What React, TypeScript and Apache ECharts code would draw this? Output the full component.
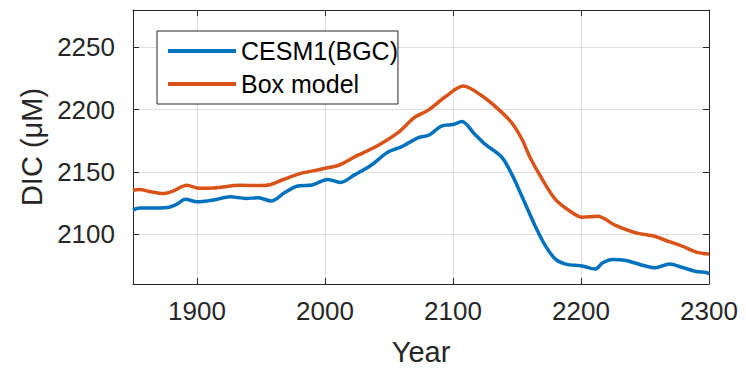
import React, { useEffect, useRef } from "react";
import * as echarts from "echarts";

const cesmYears = [1850, 1855, 1863, 1877, 1884, 1891, 1900, 1913, 1926, 1938, 1948, 1958, 1968, 1978, 1990, 2002, 2012, 2023, 2036, 2049, 2060, 2073, 2081, 2091, 2100, 2107, 2117, 2125, 2138, 2146, 2154, 2164, 2172, 2180, 2188, 2201, 2211, 2217, 2225, 2235, 2246, 2258, 2269, 2280, 2290, 2298, 2300];
const cesmValues = [2119.5, 2121, 2121, 2121.5, 2124, 2128, 2126, 2127.5, 2130, 2128.7, 2129.2, 2126.6, 2133, 2138.5, 2139.5, 2144, 2141.5, 2147.6, 2155.4, 2165.8, 2170.3, 2177.6, 2179.4, 2186.8, 2188, 2190.5, 2180.2, 2172.3, 2162, 2148, 2130, 2107, 2091, 2080, 2076, 2074.4, 2072, 2077, 2079.6, 2078.8, 2075.7, 2073.1, 2076, 2073, 2070, 2069.2, 2068];

const boxYears = [1850, 1855, 1864, 1874, 1881, 1892, 1902, 1913, 1934, 1950, 1957, 1968, 1981, 1994, 2003, 2011, 2023, 2041, 2057, 2070, 2081, 2094, 2108, 2122, 2136, 2146, 2154, 2160, 2170, 2180, 2191, 2201, 2213, 2227, 2243, 2256, 2269, 2280, 2290, 2300];
const boxValues = [2135.3, 2135.8, 2134, 2132.7, 2134.5, 2139.2, 2136.8, 2137, 2139.2, 2139, 2139.7, 2144.1, 2148.8, 2151.5, 2153.5, 2155.4, 2162, 2171, 2181.5, 2193.8, 2199.8, 2210.3, 2218.9, 2211.5, 2199.8, 2189.3, 2176, 2162, 2143.6, 2128, 2118.8, 2113.6, 2114.3, 2107, 2101, 2098.7, 2094, 2090, 2085.6, 2084];

const xTicks = [1900, 2000, 2100, 2200, 2300];
const yTicks = [2100, 2150, 2200, 2250];
const xRange = [1850, 2300];
const yRange = [2060, 2280];

const FONT = '"Liberation Sans", Arial, Helvetica, sans-serif';
const INK = "#262626";

export default function App() {
  const ref = useRef<HTMLDivElement>(null);
  useEffect(() => {
    if (!ref.current) return;
    const chart = echarts.init(ref.current, null, { renderer: "svg" });
    const axisLine = { show: true, lineStyle: { color: INK, width: 1 } };
    const tickStyle = (vals: number[]) => ({
      show: true,
      inside: true,
      length: 6,
      customValues: vals,
      lineStyle: { color: INK, width: 1 },
    });
    const plain = (v: number) => String(v);
    chart.setOption({
      animation: false,
      backgroundColor: "#ffffff",
      textStyle: { fontFamily: FONT },
      grid: { left: 133, right: 37, top: 10, bottom: 81, containLabel: false },
      legend: {
        left: 157,
        top: 31,
        orient: "vertical",
        icon: "rect",
        itemWidth: 68,
        itemHeight: 4,
        itemGap: 3,
        padding: [5, 0, 5, 11],
        borderColor: INK,
        borderWidth: 1,
        backgroundColor: "#ffffff",
        textStyle: { fontFamily: FONT, fontSize: 25, color: "#000000", lineHeight: 30, padding: [0, 0, 0, 0] },
        data: ["CESM1(BGC)", "Box model"],
      },
      xAxis: [
        {
          type: "value",
          min: xRange[0],
          max: xRange[1],
          position: "bottom",
          axisLine,
          axisTick: tickStyle(xTicks),
          axisLabel: { customValues: xTicks, formatter: plain, color: INK, fontSize: 26, fontFamily: FONT, margin: 14 },
          splitLine: { show: true, lineStyle: { color: "#dfdfdf", width: 1 } },
          name: "Year",
          nameLocation: "middle",
          nameGap: 53,
          nameTextStyle: { color: INK, fontSize: 29, fontFamily: FONT },
        },
        {
          type: "value",
          min: xRange[0],
          max: xRange[1],
          position: "top",
          axisLine,
          axisTick: tickStyle(xTicks),
          axisLabel: { show: false },
          splitLine: { show: false },
        },
      ],
      yAxis: [
        {
          type: "value",
          min: yRange[0],
          max: yRange[1],
          position: "left",
          axisLine,
          axisTick: tickStyle(yTicks),
          axisLabel: { customValues: yTicks, formatter: plain, color: INK, fontSize: 26, fontFamily: FONT, margin: 18 },
          splitLine: { show: true, lineStyle: { color: "#dfdfdf", width: 1 } },
          name: "DIC (μM)",
          nameLocation: "middle",
          nameGap: 84,
          nameTextStyle: { color: INK, fontSize: 29, fontFamily: FONT },
        },
        {
          type: "value",
          min: yRange[0],
          max: yRange[1],
          position: "right",
          axisLine,
          axisTick: tickStyle(yTicks),
          axisLabel: { show: false },
          splitLine: { show: false },
        },
      ],
      series: [
        {
          name: "CESM1(BGC)",
          type: "line",
          xAxisIndex: 0,
          yAxisIndex: 0,
          data: cesmYears.map((y, i) => [y, cesmValues[i]]),
          showSymbol: false,
          smooth: 0.3,
          color: "#0072BD",
          lineStyle: { width: 3.5, color: "#0072BD" },
          z: 3,
        },
        {
          name: "Box model",
          type: "line",
          xAxisIndex: 0,
          yAxisIndex: 0,
          data: boxYears.map((y, i) => [y, boxValues[i]]),
          showSymbol: false,
          smooth: 0.3,
          color: "#D95319",
          lineStyle: { width: 3.5, color: "#D95319" },
          z: 3,
        },
      ],
    });
    return () => chart.dispose();
  }, []);
  return <div ref={ref} style={{ width: 746, height: 371, position: "absolute", left: 0, top: 0 }} />;
}
